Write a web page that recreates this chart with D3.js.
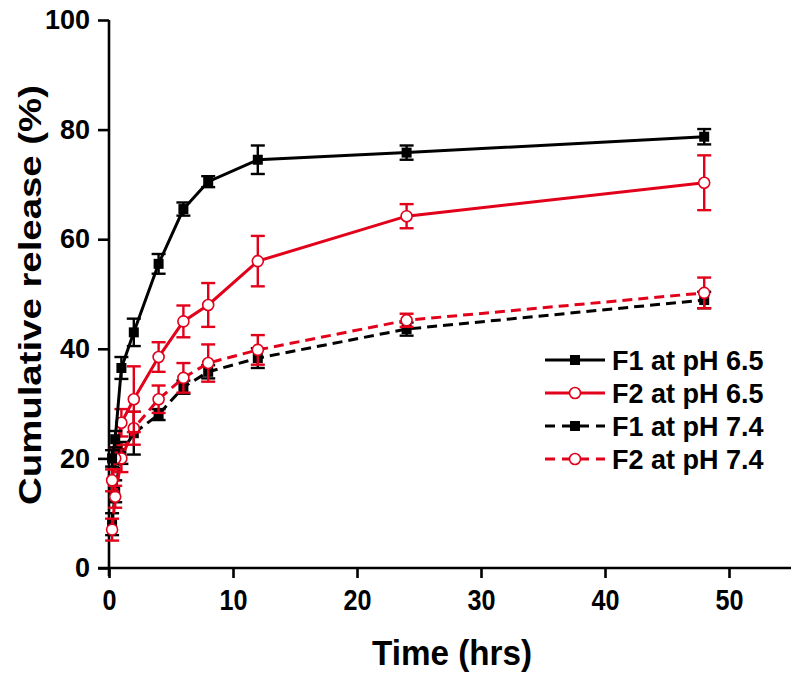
<!DOCTYPE html>
<html><head><meta charset="utf-8">
<script src="https://cdn.jsdelivr.net/npm/d3@7/dist/d3.min.js"></script>
<style>body{margin:0;background:#fff}svg{display:block}</style>
</head><body>
<svg id="c" width="800" height="675"></svg>
<script>
const times = [0.25, 0.5, 1, 2, 4, 6, 8, 12, 24, 48];
const f1_65 = [20, 23.5, 36.5, 43, 55.5, 65.5, 70.5, 74.5, 75.8, 78.7];
const f1_65_err = [1.5, 1.5, 2, 2.5, 1.8, 1.2, 1, 2.6, 1.3, 1.4];
const f2_65 = [16, 20, 26.5, 30.8, 38.5, 45, 48, 56, 64.2, 70.3];
const f2_65_err = [2, 2, 2.5, 6, 2.7, 2.9, 4, 4.6, 2.2, 5];
const f1_74 = [8, 14, 21, 24.6, 28, 33, 35.8, 38.3, 43.6, 48.9];
const f1_74_err = [2, 2, 2, 3.9, 1, 1.2, 1.2, 1.8, 1.2, 1.5];
const f2_74 = [7, 13, 20, 25.5, 30.8, 34.7, 37.4, 39.8, 45.2, 50.2];
const f2_74_err = [2, 2, 2.5, 3, 2.5, 2.7, 3.4, 2.7, 1.2, 2.8];
const seriesNames = ["F1 at pH 6.5", "F2 at pH 6.5", "F1 at pH 7.4", "F2 at pH 7.4"];
const xTicks = [0, 10, 20, 30, 40, 50];
const yTicks = [0, 20, 40, 60, 80, 100];

const RED = "#e2001a", BLACK = "#000";
const series = [
  {name: seriesNames[2], vals: f1_74, err: f1_74_err, color: BLACK, dashed: true, marker: "square"},
  {name: seriesNames[3], vals: f2_74, err: f2_74_err, color: RED, dashed: true, marker: "circle"},
  {name: seriesNames[1], vals: f2_65, err: f2_65_err, color: RED, dashed: false, marker: "circle"},
  {name: seriesNames[0], vals: f1_65, err: f1_65_err, color: BLACK, dashed: false, marker: "square"}
];

const svg = d3.select("#c");
const x = d3.scaleLinear().domain([0, 55]).range([109, 791]);
const y = d3.scaleLinear().domain([0, 100]).range([568, 20]);
const FONT = "'Liberation Sans', Arial, sans-serif";

// axes
const xAxis = svg.append("g").attr("transform", `translate(0,${y(0)})`)
  .call(d3.axisBottom(x).tickValues(xTicks).tickSize(10).tickPadding(10).tickSizeOuter(0));
xAxis.select(".domain").attr("d", `M98,0H${x(55)}`);
const yAxis = svg.append("g").attr("transform", `translate(${x(0)},0)`)
  .call(d3.axisLeft(y).tickValues(yTicks).tickSize(11).tickPadding(8).tickSizeOuter(0));
yAxis.select(".domain").attr("d", `M0,${y(100)}V${y(0) + 8}`);
svg.selectAll(".domain").attr("stroke", "#000").attr("stroke-width", 2.6);
svg.selectAll(".tick line").attr("stroke", "#000").attr("stroke-width", 2.6);
svg.selectAll(".tick text").attr("font-family", FONT).attr("font-weight", "bold")
  .attr("font-size", 27).attr("fill", "#000");
xAxis.selectAll(".tick text").attr("font-size", 30).attr("dy", "0.72em")
  .each(function() {
    const t = d3.select(this);
    const n = t.text().length;
    t.attr("textLength", n * 14).attr("lengthAdjust", "spacingAndGlyphs");
  });

// titles
svg.append("text").attr("x", 452).attr("y", 665).attr("text-anchor", "middle")
  .attr("font-family", FONT).attr("font-weight", "bold").attr("font-size", 35)
  .attr("textLength", 160).attr("lengthAdjust", "spacingAndGlyphs").text("Time (hrs)");
svg.append("text").attr("transform", "translate(41,295) rotate(-90)").attr("text-anchor", "middle")
  .attr("font-family", FONT).attr("font-weight", "bold").attr("font-size", 32)
  .attr("textLength", 420).attr("lengthAdjust", "spacingAndGlyphs").text("Cumulative release (%)");

function drawMarker(g, type, color, cx, cy) {
  if (type === "square") {
    g.append("rect").attr("x", cx - 5).attr("y", cy - 5).attr("width", 10).attr("height", 10).attr("fill", color);
  } else {
    g.append("circle").attr("cx", cx).attr("cy", cy).attr("r", 5.5).attr("fill", "#fff")
      .attr("stroke", color).attr("stroke-width", 1.6);
  }
}

const line = d3.line().x(d => x(d[0])).y(d => y(d[1]));
series.forEach(s => {
  const g = svg.append("g");
  const pts = times.map((t, i) => [t, s.vals[i], s.err[i]]);
  // error bars
  pts.forEach(p => {
    const cx = x(p[0]), y1 = y(p[1] + p[2]), y2 = y(p[1] - p[2]);
    g.append("line").attr("x1", cx).attr("x2", cx).attr("y1", y1).attr("y2", y2)
      .attr("stroke", s.color).attr("stroke-width", 2.4);
    [y1, y2].forEach(yy => g.append("line").attr("x1", cx - 7).attr("x2", cx + 7)
      .attr("y1", yy).attr("y2", yy).attr("stroke", s.color).attr("stroke-width", 2.4));
  });
  g.append("path").attr("d", line(pts)).attr("fill", "none").attr("stroke", s.color)
    .attr("stroke-width", 3).attr("stroke-dasharray", s.dashed ? "10,6" : null);
  pts.forEach(p => drawMarker(g, s.marker, s.color, x(p[0]), y(p[1])));
});

// legend
const legendOrder = [series[3], series[2], series[0], series[1]];
legendOrder.forEach((s, i) => {
  const ly = 360 + i * 33;
  const g = svg.append("g");
  g.append("line").attr("x1", 545).attr("x2", 605).attr("y1", ly).attr("y2", ly)
    .attr("stroke", s.color).attr("stroke-width", 3).attr("stroke-dasharray", s.dashed ? "10,7" : null);
  drawMarker(g, s.marker, s.color, 575, ly);
  g.append("text").attr("x", 612).attr("y", ly).attr("dy", "0.36em")
    .attr("font-family", FONT).attr("font-weight", "bold").attr("font-size", 27).text(s.name);
});
</script>
</body></html>
